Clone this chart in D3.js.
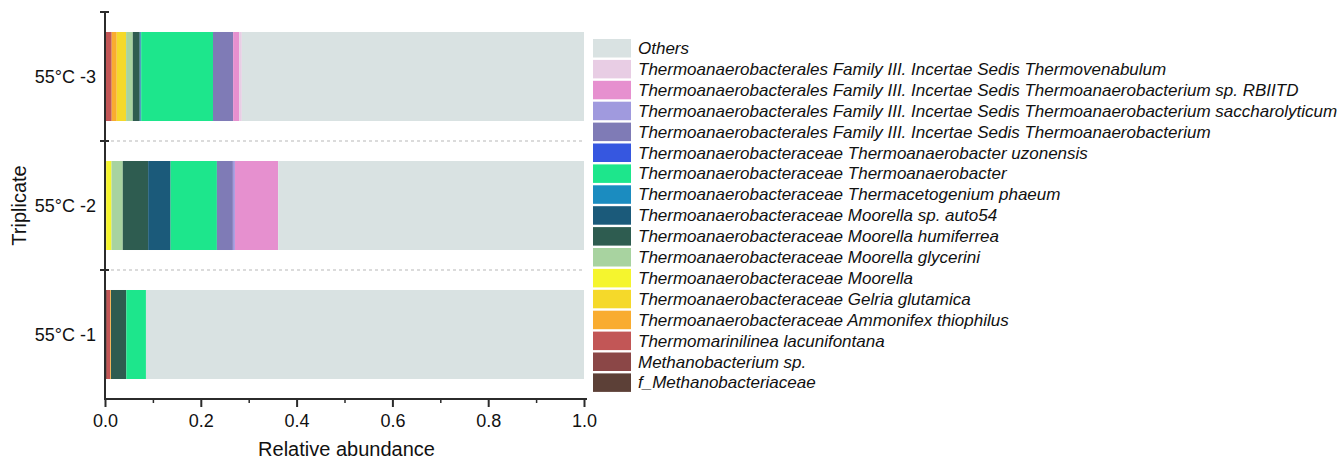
<!DOCTYPE html>
<html>
<head>
<meta charset="utf-8">
<script src="https://cdn.jsdelivr.net/npm/d3@7"></script>
<style>
  body { margin: 0; background: #fff; }
  svg { display: block; font-family: "Liberation Sans", Arial, sans-serif; }
  .legend text { font-style: italic; }
</style>
</head>
<body>
<svg id="chart" width="1341" height="463"></svg>
<script>
// samples, top to bottom
const samples = ["55°C -3", "55°C -2", "55°C -1"];

// taxa in stacking order (left to right)
const taxa = [
  "f_Methanobacteriaceae",
  "Methanobacterium sp.",
  "Thermomarinilinea lacunifontana",
  "Thermoanaerobacteraceae Ammonifex thiophilus",
  "Thermoanaerobacteraceae Gelria glutamica",
  "Thermoanaerobacteraceae Moorella",
  "Thermoanaerobacteraceae Moorella glycerini",
  "Thermoanaerobacteraceae Moorella humiferrea",
  "Thermoanaerobacteraceae Moorella sp. auto54",
  "Thermoanaerobacteraceae Thermacetogenium phaeum",
  "Thermoanaerobacteraceae Thermoanaerobacter",
  "Thermoanaerobacteraceae Thermoanaerobacter uzonensis",
  "Thermoanaerobacterales Family III. Incertae Sedis Thermoanaerobacterium",
  "Thermoanaerobacterales Family III. Incertae Sedis Thermoanaerobacterium saccharolyticum",
  "Thermoanaerobacterales Family III. Incertae Sedis Thermoanaerobacterium sp. RBIITD",
  "Thermoanaerobacterales Family III. Incertae Sedis Thermovenabulum",
  "Others"
];

// relative abundance per sample, same order as taxa (Others = remainder)
const rep3 = [0, 0, 0.014, 0.0105, 0.0195, 0, 0.014, 0.014, 0.002, 0.0015, 0.150, 0, 0.042, 0, 0.0125, 0.0056];
const rep2 = [0, 0, 0.0015, 0.001, 0, 0.011, 0.0236, 0.053, 0.0468, 0, 0.0967, 0, 0.0334, 0.0042, 0.0904, 0];
const rep1 = [0, 0.004, 0.007, 0.0015, 0, 0, 0, 0.032, 0, 0, 0.041, 0, 0, 0, 0, 0];
const sampleValues = [rep3, rep2, rep1];

const xTicks = [0, 0.2, 0.4, 0.6, 0.8, 1.0];
const xMinorTicks = [0.1, 0.3, 0.5, 0.7, 0.9];

// palette, same order as taxa
const palette = [
  "#5c4037", "#8b4747", "#c25656", "#f9ac30", "#f5d92a", "#f5f52e",
  "#a8d3a0", "#2e5c50", "#1b5a7a", "#1b8cc0", "#1de68c", "#3657e0",
  "#7f7bb6", "#a09ade", "#e690cf", "#e8cde4", "#d9e2e2"
];

const svg = d3.select("#chart");

const rows = samples.map((s, i) => {
  const r = { sample: s };
  const vals = sampleValues[i];
  let sum = 0;
  taxa.forEach((t, j) => {
    if (t === "Others") return;
    r[t] = vals[j];
    sum += vals[j];
  });
  r["Others"] = 1 - sum;
  return r;
});

const x = d3.scaleLinear().domain([0, 1]).range([105, 584]);
const y = d3.scaleBand().domain(samples).range([12, 399]).paddingInner(0.31).paddingOuter(0.155);
const bandEdge = d3.scaleBand().domain(samples).range([12, 399]);
const color = d3.scaleOrdinal().domain(taxa).range(palette);

const series = d3.stack().keys(taxa)(rows);

// separators between replicates
svg.append("g")
  .selectAll("line")
  .data(samples.slice(1))
  .join("line")
  .attr("x1", 111).attr("x2", x(1))
  .attr("y1", d => bandEdge(d)).attr("y2", d => bandEdge(d))
  .attr("stroke", "#cfcfcf")
  .attr("stroke-width", 1.5)
  .attr("stroke-dasharray", "3,3");

// bars
svg.append("g")
  .selectAll("g")
  .data(series)
  .join("g")
  .attr("fill", d => color(d.key))
  .selectAll("rect")
  .data(d => d)
  .join("rect")
  .attr("x", d => x(d[0]))
  .attr("width", d => Math.max(0, x(d[1]) - x(d[0])))
  .attr("y", d => y(d.data.sample))
  .attr("height", y.bandwidth());

// x axis
const xAxis = svg.append("g")
  .attr("transform", `translate(0,${399})`)
  .call(d3.axisBottom(x).tickValues(xTicks).tickFormat(d3.format(".1f")).tickSize(8).tickPadding(7));
xAxis.select(".domain").attr("d", `M${104},0H${587}`);
xAxis.selectAll("line, .domain").attr("stroke", "#2b2b2b").attr("stroke-width", 2);
xAxis.selectAll("text").attr("font-size", 18).attr("fill", "#111")
  .attr("font-family", "Liberation Sans, Arial, sans-serif");

const xMinor = svg.append("g")
  .attr("transform", `translate(0,${399})`)
  .call(d3.axisBottom(x).tickValues(xMinorTicks).tickSize(4).tickFormat(""));
xMinor.select(".domain").remove();
xMinor.selectAll("line").attr("stroke", "#2b2b2b").attr("stroke-width", 1.5);

// y axis
const yAxis = svg.append("g").attr("transform", `translate(105,0)`);
yAxis.append("line")
  .attr("x1", 0).attr("x2", 0).attr("y1", 12).attr("y2", 400)
  .attr("stroke", "#2b2b2b").attr("stroke-width", 2);
yAxis.selectAll("line.tick")
  .data(samples)
  .join("line")
  .attr("class", "tick")
  .attr("x1", -5).attr("x2", 4)
  .attr("y1", d => bandEdge(d)).attr("y2", d => bandEdge(d))
  .attr("stroke", "#2b2b2b").attr("stroke-width", 2);
yAxis.selectAll("text")
  .data(samples)
  .join("text")
  .attr("x", -9)
  .attr("y", d => bandEdge(d) + bandEdge.bandwidth() / 2)
  .attr("text-anchor", "end")
  .attr("dominant-baseline", "central")
  .attr("font-size", 18)
  .attr("fill", "#111")
  .text(d => d);

// axis titles
svg.append("text")
  .attr("x", (x(0) + x(1)) / 2 + 2)
  .attr("y", 456)
  .attr("text-anchor", "middle")
  .attr("font-size", 20)
  .attr("fill", "#111")
  .text("Relative abundance");

svg.append("text")
  .attr("transform", `translate(26,${(12 + 399) / 2}) rotate(-90)`)
  .attr("text-anchor", "middle")
  .attr("font-size", 20)
  .attr("fill", "#111")
  .text("Triplicate");

// legend, reversed
const legendItems = taxa.slice().reverse();
const legend = svg.append("g").attr("class", "legend").attr("transform", "translate(593,39)");
const item = legend.selectAll("g")
  .data(legendItems)
  .join("g")
  .attr("transform", (d, i) => `translate(0,${i * 20.9})`);
item.append("rect")
  .attr("width", 38).attr("height", 18.5)
  .attr("fill", d => color(d));
item.append("text")
  .attr("x", 45).attr("y", 9.5)
  .attr("dominant-baseline", "central")
  .attr("font-size", 17)
  .attr("fill", "#111")
  .text(d => d);
</script>
</body>
</html>
